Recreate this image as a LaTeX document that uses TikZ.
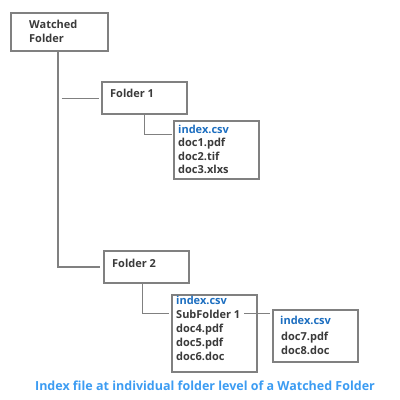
\documentclass[tikz,border=0pt]{standalone}
\usepackage{fontspec}
\setmainfont{Open Sans}
\usetikzlibrary{positioning}

\definecolor{boxgray}{HTML}{808080}
\definecolor{txtgray}{HTML}{3A3A3A}
\definecolor{idxblue}{HTML}{1C6EC0}
\definecolor{capblue}{HTML}{3C9CF2}

\tikzset{
  box/.style={draw=boxgray, line width=2pt, fill=white, anchor=north west, inner sep=0pt},
  item/.style={anchor=base west, inner sep=0pt, text=txtgray, font=\fontsize{11}{13}\selectfont\bfseries},
  idx/.style={item, text=idxblue},
  trunk/.style={draw=boxgray, line width=2pt},
  branch/.style={draw=boxgray, line width=1pt},
}

\begin{document}
\begin{tikzpicture}[x=1pt, y=-1pt]
  \useasboundingbox (0,0) rectangle (400,400);

  % boxes
  \node[box, minimum width=97pt, minimum height=38pt] (watched) at (10,12) {};
  \node[box, minimum width=85pt, minimum height=32pt] (folder1) at (101,81) {};
  \node[box, minimum width=85pt, minimum height=58pt] (index1) at (173,120) {};
  \node[box, minimum width=85pt, minimum height=32pt] (folder2) at (103,250) {};
  \node[box, minimum width=85pt, minimum height=77pt] (index2) at (171,294) {};
  \node[box, minimum width=85pt, minimum height=52pt] (index3) at (272,309) {};

  % names
  \node[item] (watchedtxt) at (29,28) {Watched};
  \node[item] (watchedtxtb) at (29,42) {Folder};
  \node[item] (folder1txt) at (110,97) {Folder 1};
  \node[item] (folder2txt) at (112,267) {Folder 2};

  % first index
  \node[idx] (idxa) at (178,133) {index.csv};
  \node[item] (doca) at (178,146.5) {doc1.pdf};
  \node[item] (docb) at (178,160) {doc2.tif};
  \node[item] (docc) at (178,173.5) {doc3.xlxs};

  % second index
  \node[idx] (idxb) at (176,304) {index.csv};
  \node[item] (sub) at (176,318) {SubFolder 1};
  \node[item] (docd) at (176,332) {doc4.pdf};
  \node[item] (doce) at (176,346) {doc5.pdf};
  \node[item] (docf) at (176,360) {doc6.doc};

  % third index
  \node[idx] (idxc) at (280,324) {index.csv};
  \node[item] (docg) at (281,340) {doc7.pdf};
  \node[item] (doch) at (281,354) {doc8.doc};

  % connectors
  \draw[trunk] ([xshift=-1.5pt]watched.south) |- ([xshift=-3pt]folder2.west);
  \draw[branch] ([xshift=2pt]watched.south |- folder1.west) -- ([xshift=-2pt]folder1.west);
  \draw[branch] (folder1.south) |- ([xshift=-1pt,yshift=-14.5pt]index1.north west);
  \draw[branch] ([xshift=-4pt]folder2.south) |- ([xshift=-2pt]sub.west -| index2.west);
  \draw[branch] ([xshift=4pt]sub.east) -- ([xshift=-2pt]sub.east -| index3.west);

  % caption
  \node[anchor=base, inner sep=0pt, text=capblue, font=\fontsize{12.5}{14}\selectfont\bfseries] (caption) at (205,390)
    {Index file at individual folder level of a Watched Folder};
\end{tikzpicture}
\end{document}
